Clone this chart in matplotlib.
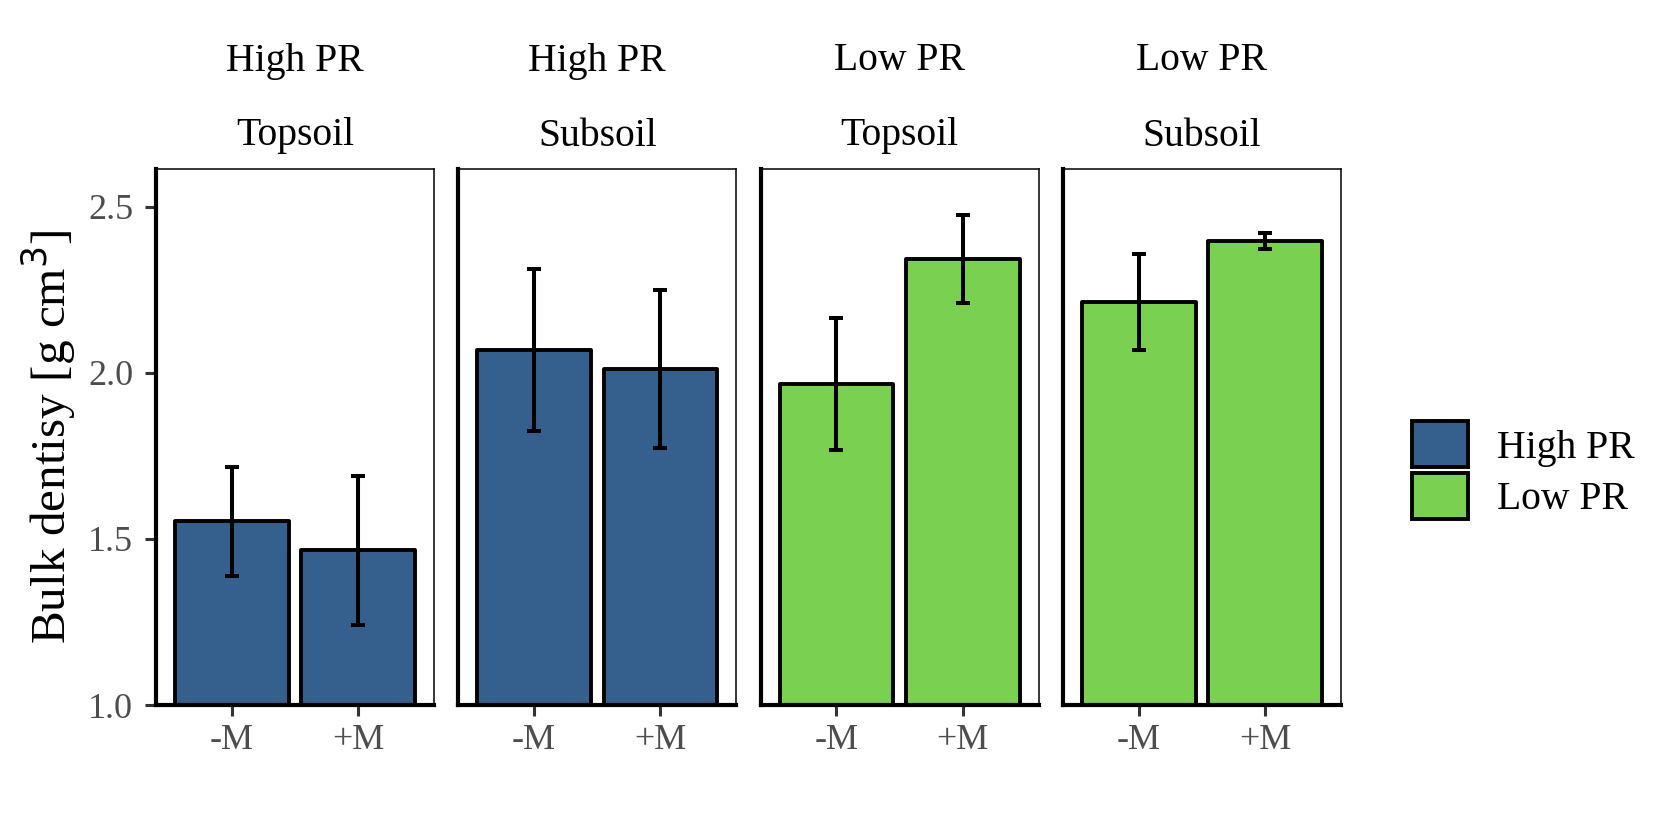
import matplotlib.pyplot as plt
from matplotlib.patches import Patch

plt.rcParams['font.family'] = ['Liberation Serif', 'DejaVu Serif']

# Datos
panel_pr = ["High PR", "High PR", "Low PR", "Low PR"]
panel_soil = ["Topsoil", "Subsoil", "Topsoil", "Subsoil"]
treatments = ["-M", "+M"]
means = [[1.553, 1.466], [2.069, 2.012], [1.967, 2.342], [2.214, 2.398]]
errors = [[0.165, 0.225], [0.243, 0.237], [0.199, 0.132], [0.145, 0.024]]
colors = {"High PR": "#35608D", "Low PR": "#7AD151"}

fig = plt.figure(figsize=(16.8, 8.4), dpi=100)
W, H = 1680, 840
left0, step, pw = 156, 302.3, 278
bottom, top = 705, 169

for i in range(4):
    ax = fig.add_axes([(left0 + i * step) / W, 1 - bottom / H, pw / W, (bottom - top) / H])
    x = [1, 2]
    ax.bar(x, means[i], width=0.9, color=colors[panel_pr[i]], edgecolor="black",
           linewidth=2.8, joinstyle="round", zorder=2)
    ax.errorbar(x, means[i], yerr=errors[i], fmt="none", ecolor="black",
                elinewidth=2.9, capsize=4.7, capthick=2.9, zorder=3)
    ax.set_xlim(0.4, 2.6)
    ax.set_ylim(1.0, 2.614)
    ax.set_xticks(x)
    ax.set_xticklabels(treatments)
    ax.set_yticks([1.0, 1.5, 2.0, 2.5])
    ax.set_yticklabels(["1.0", "1.5", "2.0", "2.5"])
    ax.tick_params(axis="both", labelsize=26, labelcolor="#4D4D4D", color="#333333",
                   length=8, width=2.2)
    ax.tick_params(axis="y", pad=8.5)
    ax.tick_params(axis="x", pad=6)
    for s in ["top", "right"]:
        ax.spines[s].set_linewidth(1.1)
    for s in ["left", "bottom"]:
        ax.spines[s].set_linewidth(3.0)
        ax.spines[s].set_zorder(4)
    if i > 0:
        ax.tick_params(axis="y", left=False, labelleft=False)
    else:
        ax.set_ylabel("Bulk dentisy [g cm$^3$]", fontsize=35.5, va="center")
        ax.yaxis.set_label_coords((48 - left0) / pw, 0.5)
    ax.text(0.5, 1 + (top - 61) / (bottom - top), panel_pr[i], transform=ax.transAxes,
            ha="center", va="center", fontsize=28.5)
    ax.text(0.5, 1 + (top - 136) / (bottom - top), panel_soil[i], transform=ax.transAxes,
            ha="center", va="center", fontsize=28.5)

handles = [Patch(facecolor=colors[k], edgecolor="black", linewidth=2.8, label=k)
           for k in ["High PR", "Low PR"]]
fig.legend(handles=handles, loc="center left", bbox_to_anchor=(1412 / W, 1 - 470 / H),
           frameon=False, fontsize=28.5, handlelength=1.41, handleheight=1.41,
           labelspacing=0.13, handletextpad=0.73, borderpad=0, borderaxespad=0)

plt.savefig("out.png", dpi=100)
plt.close()
